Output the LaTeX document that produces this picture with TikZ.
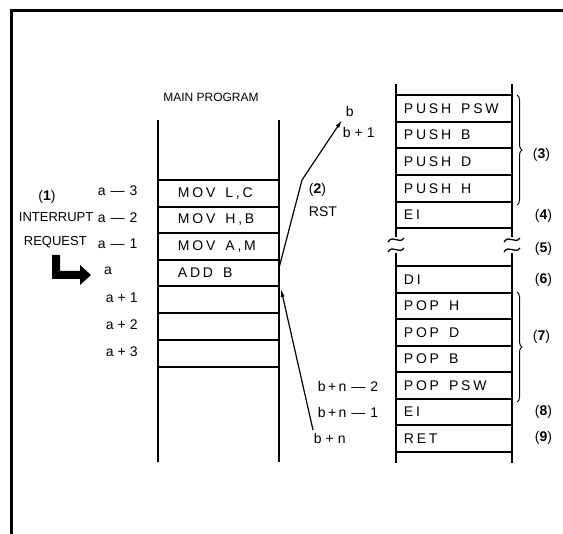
\documentclass[tikz,border=0pt]{standalone}
\usepackage{fontspec}
\setmainfont{Liberation Sans}
\newfontfamily\cellfont[LetterSpace=20]{Liberation Sans}
\usetikzlibrary{decorations.pathreplacing,arrows.meta}
\newcommand\ws{\hspace{10pt}}
\newcommand\mn{\hspace{5pt}—\hspace{5pt}}
\newcommand\pl{\hspace{4pt}+\hspace{4pt}}
\begin{document}
\begin{tikzpicture}[x=1pt,y=-1pt,
  line width=1.8pt,
  lbl/.style={font=\fontsize{14}{14}\selectfont, inner sep=0pt},
  wlbl/.style={lbl, anchor=west},
  slbl/.style={font=\fontsize{13}{14}\selectfont, inner sep=0pt, anchor=west},
  cell/.style={font=\cellfont\fontsize{14}{14}\selectfont, anchor=west, inner sep=0pt},
  conn/.style={line width=1.2pt, -{Latex[length=8pt,width=4pt]}},
  brc/.style={line width=1pt, decorate, decoration={brace, amplitude=5pt}},
  brk/.style={line width=1.3pt}]
\useasboundingbox (0,0) rectangle (563,534);

% frame
\draw[line width=3pt] (11.5,534) -- (11.5,10.5) -- (563,10.5);

% main program column
\node[font=\fontsize{12}{12}\selectfont, inner sep=0pt] (mp) at (211,97) {MAIN PROGRAM};
\draw (158,120) -- (158,462);
\draw (279,120) -- (279,462);
\foreach \y in {180,207,233,260,286,313,340,367} \draw (158,\y) -- (279,\y);
\node[cell] (m1) at (177,193.5) {MOV\ws L,C};
\node[cell] (m2) at (177,220) {MOV\ws H,B};
\node[cell] (m3) at (177,246.5) {MOV\ws A,M};
\node[cell] (m4) at (177,273) {ADD\ws B};

% address labels a
\node[wlbl] (am3) at (97,191) {a\mn3};
\node[wlbl] (am2) at (97,217.5) {a\mn2};
\node[wlbl] (am1) at (97,244) {a\mn1};
\node[lbl] (a0) at (108,271) {a};
\node[wlbl] (ap1) at (105,297.5) {a\pl1};
\node[wlbl] (ap2) at (105,324.5) {a\pl2};
\node[wlbl] (ap3) at (105,351.5) {a\pl3};

% interrupt request
\node[lbl] (n1) at (47,197) {(\textbf{1})};
\node[slbl] (ir) at (18,217) {INTERRUPT};
\node[slbl] (rq) at (23,242) {REQUEST};
\fill (52,255) -- (60,255) -- (60,271) -- (80,271) -- (80,265) -- (91,275)
      -- (80,285) -- (80,279) -- (52,279) -- cycle;

% subroutine column
\draw (396,84) -- (396,237);
\draw (396,253) -- (396,463);
\draw (512,84) -- (512,237);
\draw (512,253) -- (512,463);
\foreach \y in {95,122,148,175,202,228,266,293,319,346,372,399,425,452}
  \draw (396,\y) -- (512,\y);
\foreach \x in {396,512}{
  \draw[brk] (\x-8,242) .. controls (\x-3,234) and (\x+3,245) .. (\x+8,238);
  \draw[brk] (\x-8,252) .. controls (\x-3,244) and (\x+3,255) .. (\x+8,248);
}
\node[cell] (s1) at (403,108.5) {PUSH\ws PSW};
\node[cell] (s2) at (403,135) {PUSH\ws B};
\node[cell] (s3) at (403,161.5) {PUSH\ws D};
\node[cell] (s4) at (403,188.5) {PUSH\ws H};
\node[cell] (s5) at (403,215) {EI};
\node[cell] (s6) at (403,279.5) {DI};
\node[cell] (s7) at (403,306) {POP\ws H};
\node[cell] (s8) at (403,332.5) {POP\ws D};
\node[cell] (s9) at (403,359) {POP\ws B};
\node[cell] (s10) at (403,385.5) {POP\ws PSW};
\node[cell] (s11) at (403,412) {EI};
\node[cell] (s12) at (403,438.5) {RET};

% address labels b
\node[wlbl] (b0) at (345,112) {b};
\node[wlbl] (b1) at (342,133) {b\pl1};
\node[wlbl] (bn2) at (317,386) {b\,+\,n\mn2};
\node[wlbl] (bn1) at (317,412) {b\,+\,n\mn1};
\node[wlbl] (bn) at (313,438) {b\pl n};

% RST
\node[wlbl] (n2) at (308,190) {(\textbf{2})};
\node[wlbl] (rst) at (308,212) {RST};
\coordinate (rstStart) at (279,268);
\coordinate (rstBend) at (302,180);
\draw[conn] (rstStart) -- (rstBend) -- ([shift={(-3,2)}]b0.south west);

% return
\coordinate (retEnd) at (281,289);
\draw[conn] ([shift={(0,-2)}]bn.north west) -- (retEnd);

% braces and step numbers
\draw[brc] (517,95) -- (517,205);
\draw[brc] (517,292) -- (517,402);
\node[wlbl] (n3) at (532,155) {(\textbf{3})};
\node[wlbl] (n4) at (534,216) {(\textbf{4})};
\node[wlbl] (n5) at (534,249) {(\textbf{5})};
\node[wlbl] (n6) at (534,280) {(\textbf{6})};
\node[wlbl] (n7) at (532,337) {(\textbf{7})};
\node[wlbl] (n8) at (534,412) {(\textbf{8})};
\node[wlbl] (n9) at (534,438) {(\textbf{9})};
\end{tikzpicture}
\end{document}
